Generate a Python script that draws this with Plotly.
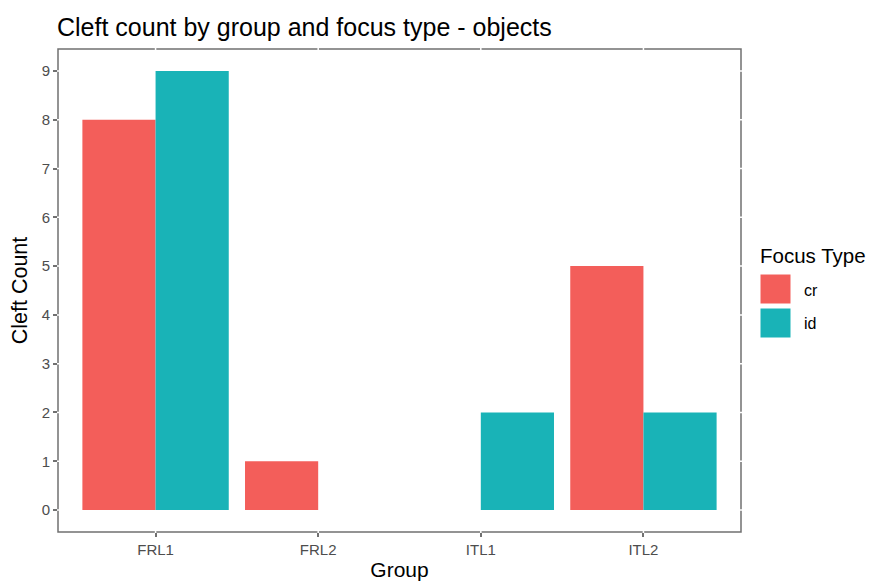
import plotly.graph_objects as go

groups = ["FRL1", "FRL2", "ITL1", "ITL2"]
cr_counts = [8, 1, None, 5]
id_counts = [9, None, 2, 2]
series_names = ["cr", "id"]
y_ticks = [0, 1, 2, 3, 4, 5, 6, 7, 8, 9]
legend_title = "Focus Type"

colors = ["#F35E5A", "#19B3B7"]
FONT = "Liberation Sans, Arial"

W, H = 870, 581
L, R, T, B = 58, 741, 49, 532  # panel pixel bounds

fig = go.Figure()
for name, vals, col in zip(series_names, [cr_counts, id_counts], colors):
    fig.add_trace(go.Bar(x=groups, y=vals, name=name, showlegend=False,
                         marker=dict(color=col, line=dict(width=0))))

axis_common = dict(
    showline=False,
    ticks="outside", ticklen=4, tickcolor="#707070", tickwidth=1.5,
    showgrid=False, zeroline=False, automargin=False,
    tickfont=dict(family=FONT, size=15, color="#4d4d4d"),
)

def px_x(px):
    return (px - L) / (R - L)

def px_y(py):
    return (B - py) / (B - T)

shapes = []
annotations = []
# panel outline (ggplot panel.background with grey outline), white grid lines cut it
shapes.append(dict(type="rect", xref="paper", yref="paper", x0=0, x1=1, y0=0, y1=1,
                   line=dict(color="#707070", width=1.5), layer="below"))
for yv in y_ticks:
    shapes.append(dict(type="line", xref="paper", yref="y", x0=-0.005, x1=1.005, y0=yv, y1=yv,
                       line=dict(color="white", width=1.5), layer="below"))
for g in groups:
    shapes.append(dict(type="line", xref="x", yref="paper", x0=g, x1=g, y0=-0.005, y1=1.005,
                       line=dict(color="white", width=1.5), layer="below"))

# manual legend (ggplot-style large keys)
key_tops = [274, 308]
for name, col, top in zip(series_names, colors, key_tops):
    shapes.append(dict(type="rect", xref="paper", yref="paper",
                       x0=px_x(760), x1=px_x(791), y0=px_y(top + 30), y1=px_y(top),
                       fillcolor=col, line=dict(width=1, color="white")))
    annotations.append(dict(text=name, xref="paper", yref="paper",
                            x=px_x(802), y=px_y(top + 16), xanchor="left", yanchor="middle",
                            showarrow=False, font=dict(family=FONT, size=16, color="black")))
annotations.append(dict(text=legend_title, xref="paper", yref="paper",
                        x=px_x(758), y=px_y(255), xanchor="left", yanchor="middle",
                        showarrow=False, font=dict(family=FONT, size=20.5, color="black")))

fig.update_layout(
    width=W, height=H,
    paper_bgcolor="white", plot_bgcolor="white",
    margin=dict(l=L, r=W - R, t=T, b=H - B, autoexpand=False),
    barmode="group", bargap=0.1, bargroupgap=0,
    title=dict(text="Cleft count by group and focus type - objects",
               x=57 / W, xanchor="left", y=1 - 27 / H, yanchor="middle",
               font=dict(family=FONT, size=25, color="black")),
    xaxis=dict(axis_common, range=[-0.6, 3.6],
               title=dict(text="Group", font=dict(family=FONT, size=21, color="black"), standoff=6)),
    yaxis=dict(axis_common, range=[-0.45, 9.45], tickvals=y_ticks,
               title=dict(text="Cleft Count", font=dict(family=FONT, size=21.5, color="black"), standoff=8)),
    shapes=shapes,
    annotations=annotations,
)

fig.write_html("out.html", config={"displayModeBar": False},
               post_script="document.body.style.margin='0';")
